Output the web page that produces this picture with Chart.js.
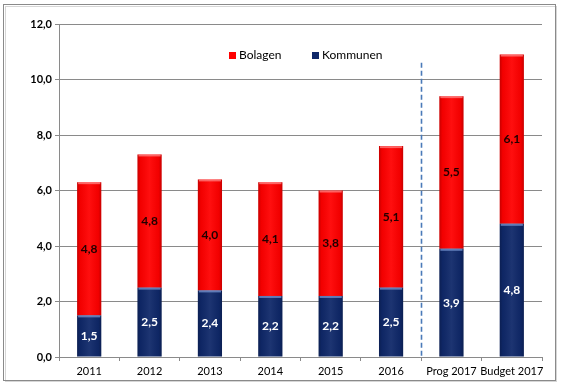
<!DOCTYPE html>
<html>
<head>
<meta charset="utf-8">
<script src="https://cdn.jsdelivr.net/npm/chart.js@4/dist/chart.umd.min.js"></script>
<style>
  html, body { margin: 0; padding: 0; background: #fff; }
  #wrap { width: 563px; height: 388px; }
</style>
</head>
<body>
<div id="wrap"><canvas id="costChart" width="563" height="388"></canvas></div>
<script>
const years = ["2011", "2012", "2013", "2014", "2015", "2016", "Prog 2017", "Budget 2017"];
const kommunen = [1.5, 2.5, 2.4, 2.2, 2.2, 2.5, 3.9, 4.8];
const bolagen = [4.8, 4.8, 4.0, 4.1, 3.8, 5.1, 5.5, 6.1];
const yTicks = [0, 2, 4, 6, 8, 10, 12];

const NAVY = "#0f2869";
const RED = "#ff0000";
const FONT = "Lato, 'Open Sans', sans-serif";

function fmt(v) {
  return v.toFixed(1).replace(".", ",");
}

// frame round the whole picture
const framePlugin = {
  id: "frame",
  beforeDraw(chart) {
    const ctx = chart.ctx;
    ctx.save();
    ctx.fillStyle = "#fff";
    ctx.fillRect(0, 0, chart.width, chart.height);
    ctx.strokeStyle = "#d6d6d6";
    ctx.lineWidth = 1;
    ctx.strokeRect(5.5, 6.5, 551, 375);
    ctx.strokeStyle = "#8a8a8a";
    ctx.strokeRect(3.5, 4.5, 552, 376);
    ctx.restore();
  },
};

// shading on the bars, labels, divider and legend
const decoPlugin = {
  id: "deco",
  afterDatasetsDraw(chart) {
    const ctx = chart.ctx;
    const x = chart.scales.x;
    const y = chart.scales.y;

    chart.data.datasets.forEach((ds, di) => {
      const meta = chart.getDatasetMeta(di);
      meta.data.forEach((bar, i) => {
        const left = bar.x - bar.width / 2;
        const top = Math.min(bar.y, bar.base);
        const h = Math.abs(bar.base - bar.y);
        const g = ctx.createLinearGradient(left, 0, left + bar.width, 0);
        g.addColorStop(0, "rgba(0,0,0,0.22)");
        g.addColorStop(0.12, "rgba(0,0,0,0.05)");
        g.addColorStop(0.5, "rgba(255,255,255,0.06)");
        g.addColorStop(0.88, "rgba(0,0,0,0.05)");
        g.addColorStop(1, "rgba(0,0,0,0.22)");
        ctx.save();
        ctx.fillStyle = g;
        ctx.fillRect(left, top, bar.width, h);
        ctx.fillStyle = di === 0 ? "rgba(120,150,210,0.75)" : "rgba(255,140,140,0.7)";
        ctx.fillRect(left + 1, top, bar.width - 2, 2);
        ctx.restore();

        ctx.save();
        ctx.font = "bold 12px " + FONT;
        ctx.textAlign = "center";
        ctx.textBaseline = "middle";
        ctx.fillStyle = di === 0 ? "#ffffff" : "#200000";
        ctx.fillText(fmt(ds.data[i]), bar.x, top + h / 2);
        ctx.restore();
      });
    });

    // dashed divider between actuals and 2017
    const dx = Math.round((x.getPixelForValue(5) + x.getPixelForValue(6)) / 2) + 0.5;
    ctx.save();
    ctx.strokeStyle = "#4a7ab8";
    ctx.lineWidth = 1.6;
    ctx.setLineDash([5, 3]);
    ctx.beginPath();
    ctx.moveTo(dx, y.getPixelForValue(10.6));
    ctx.lineTo(dx, y.bottom);
    ctx.stroke();
    ctx.restore();

    // legend inside the plot
    const items = [
      { label: chart.data.datasets[1].label, color: RED, x: 229 },
      { label: chart.data.datasets[0].label, color: NAVY, x: 312 },
    ];
    ctx.save();
    ctx.font = "12px " + FONT;
    ctx.textBaseline = "middle";
    items.forEach((it) => {
      ctx.fillStyle = it.color;
      ctx.fillRect(it.x, 52, 7, 7);
      ctx.fillStyle = "#000";
      ctx.fillText(it.label, it.x + 10, 55.5);
    });
    ctx.restore();
  },
};

new Chart(document.getElementById("costChart"), {
  type: "bar",
  data: {
    labels: years,
    datasets: [
      {
        label: "Kommunen",
        data: kommunen,
        backgroundColor: NAVY,
        barPercentage: 0.4,
        categoryPercentage: 1,
      },
      {
        label: "Bolagen",
        data: bolagen,
        backgroundColor: RED,
        barPercentage: 0.4,
        categoryPercentage: 1,
      },
    ],
  },
  options: {
    responsive: false,
    animation: false,
    layout: {
      padding: { top: 24, right: 21, bottom: 0, left: 0 },
    },
    scales: {
      x: {
        stacked: true,
        afterFit: (s) => {
          s.height = 31;
        },
        grid: {
          offset: true,
          drawOnChartArea: false,
          drawTicks: true,
          tickLength: 4,
          color: "#8a8a8a",
        },
        border: { color: "#8a8a8a" },
        ticks: {
          color: "#000",
          padding: 4,
          maxRotation: 0,
          minRotation: 0,
          autoSkip: false,
          font: { family: FONT, size: 11 },
        },
      },
      y: {
        stacked: true,
        min: 0,
        max: 12,
        afterFit: (s) => {
          s.width = 59;
        },
        afterBuildTicks: (s) => {
          s.ticks = yTicks.map((v) => ({ value: v }));
        },
        grid: {
          color: "#8a8a8a",
          tickLength: 4,
        },
        border: { color: "#8a8a8a" },
        ticks: {
          color: "#000",
          padding: 3,
          font: { family: FONT, size: 11, weight: "bold" },
          callback: (v) => fmt(v),
        },
      },
    },
    plugins: {
      legend: { display: false },
      tooltip: { enabled: false },
    },
  },
  plugins: [framePlugin, decoPlugin],
});
</script>
</body>
</html>
